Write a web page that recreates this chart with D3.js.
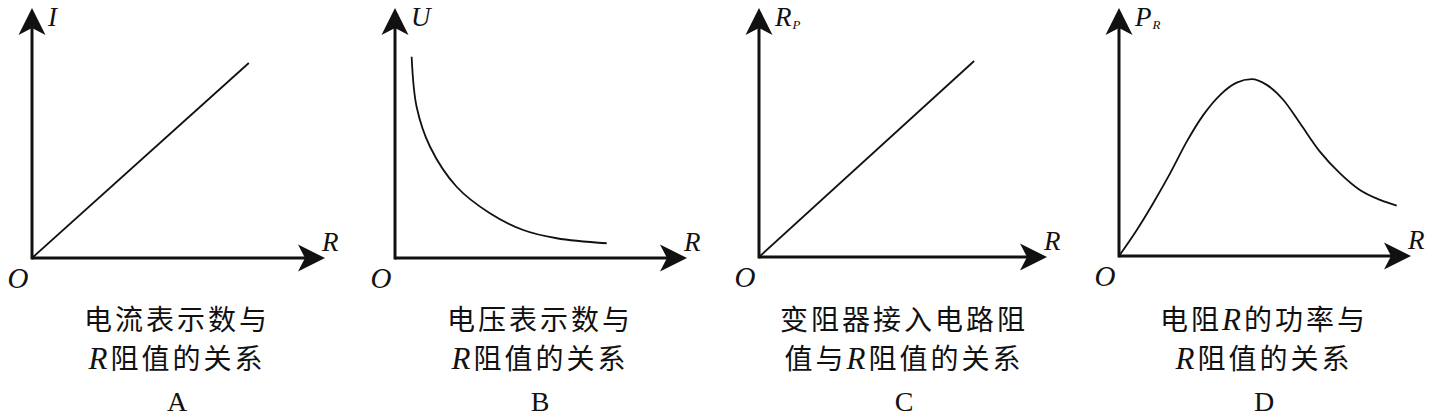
<!DOCTYPE html>
<html>
<head>
<meta charset="utf-8">
<script src="https://cdn.jsdelivr.net/npm/d3@7"></script>
<style>
  body { margin: 0; background: #fff; }
  .lat { font-family: "Liberation Serif", "DejaVu Serif", serif; font-style: italic; }
  .cap { font-family: "Noto Sans CJK SC", sans-serif; }
</style>
</head>
<body>
<div id="chart"></div>
<script>
var width = 1439, height = 417;

// panel ids and texts
var panelIds = ["A", "B", "C", "D"];
var yMain = ["I", "U", "R", "P"];
var ySub = ["", "", "P", "R"];
var xLabel = "R";
var caption1 = [["电流表示数与"], ["电压表示数与"], ["变阻器接入电路阻"], ["电阻", "R", "的功率与"]];
var caption2 = [["", "R", "阻值的关系"], ["", "R", "阻值的关系"], ["值与", "R", "阻值的关系"], ["", "R", "阻值的关系"]];

// curves, in percent of the axis length (x: R, y: quantity)
var curveA = [[0, 0], [74, 78]];
var curveB = [[5.7, 80.5], [7.4, 60.5], [12.0, 44.5], [21.1, 28.5], [32.5, 17.9], [43.9, 11.2], [55.4, 7.9], [72.5, 5.9]];
var curveC = [[0, 0], [74.7, 78.7]];
var curveD = [[0, 0], [6.1, 10.5], [11.7, 21.3], [17.5, 33.3], [23.2, 46.1], [28.9, 56.9], [34.6, 64.9], [40.3, 69.9], [45.4, 71.3], [50.6, 69.0], [56.3, 62.9], [62.0, 53.5], [68.8, 42.1], [75.7, 33.3], [82.5, 26.6], [89.4, 22.6], [95.1, 20.3]];
var curves = [curveA, curveB, curveC, curveD];

// layout of each panel: origin and arrow tips (pixels)
var layout = [
  { ox: 32, oy: 258, tx: 325, ty: 8 },
  { ox: 395, oy: 258, tx: 687, ty: 8 },
  { ox: 759, oy: 257, tx: 1047, ty: 8 },
  { ox: 1119, oy: 256, tx: 1411, ty: 8 }
];
var curveTypes = [d3.curveLinear, d3.curveCatmullRom.alpha(0.5), d3.curveLinear, d3.curveMonotoneX];

var svg = d3.select("#chart").append("svg")
  .attr("width", width)
  .attr("height", height);

var ink = "#111";

panelIds.forEach(function(id, i) {
  var L = layout[i];
  var x = d3.scaleLinear().domain([0, 100]).range([L.ox, L.tx]);
  var y = d3.scaleLinear().domain([0, 100]).range([L.oy, L.ty]);
  var g = svg.append("g").attr("class", "panel-" + id);

  // axes
  g.append("line")
    .attr("x1", x(0)).attr("y1", y(0))
    .attr("x2", x(100) - 12).attr("y2", y(0))
    .attr("stroke", ink).attr("stroke-width", 3);
  g.append("line")
    .attr("x1", x(0)).attr("y1", y(0) + 1.5)
    .attr("x2", x(0)).attr("y2", y(100) + 12)
    .attr("stroke", ink).attr("stroke-width", 3);

  // arrow heads
  var arrow = "M0,0 L-13.5,27 L0,20 L13.5,27 Z";
  g.append("path").attr("d", arrow).attr("fill", ink)
    .attr("transform", "translate(" + x(0) + "," + y(100) + ")");
  g.append("path").attr("d", arrow).attr("fill", ink)
    .attr("transform", "translate(" + x(100) + "," + y(0) + ") rotate(90)");

  // curve
  var line = d3.line()
    .x(function(d) { return x(d[0]); })
    .y(function(d) { return y(d[1]); })
    .curve(curveTypes[i]);
  g.append("path")
    .datum(curves[i])
    .attr("d", line)
    .attr("fill", "none")
    .attr("stroke", ink)
    .attr("stroke-width", 1.8);

  // axis labels
  var yl = g.append("text").attr("class", "lat")
    .attr("x", x(0) + 16).attr("y", 26)
    .attr("font-size", 27).attr("fill", ink);
  yl.append("tspan").text(yMain[i]);
  if (ySub[i]) {
    yl.append("tspan").attr("font-size", 13).attr("dy", 3).attr("dx", 1).text(ySub[i]);
  }
  g.append("text").attr("class", "lat")
    .attr("x", x(100) - 3).attr("y", y(0) - 7)
    .attr("font-size", 27).attr("fill", ink)
    .text(xLabel);
  g.append("text").attr("class", "lat")
    .attr("x", x(0) - 14).attr("y", y(0) + 30)
    .attr("text-anchor", "middle")
    .attr("font-size", 29).attr("fill", ink)
    .text("O");

  // caption
  var cx = x(0) + 145;
  [caption1[i], caption2[i]].forEach(function(parts, k) {
    var t = g.append("text").attr("class", "cap")
      .attr("x", cx).attr("y", 330 + k * 39)
      .attr("text-anchor", "middle")
      .attr("font-size", 28).attr("fill", ink)
      .attr("letter-spacing", 3);
    parts.forEach(function(p) {
      if (!p) return;
      var s = t.append("tspan").text(p);
      if (p === "R") s.attr("class", "lat").attr("font-size", 31);
    });
  });
  g.append("text")
    .attr("x", cx).attr("y", 411)
    .attr("text-anchor", "middle")
    .attr("font-family", "Liberation Serif, serif")
    .attr("font-size", 28).attr("fill", ink)
    .text(id);
});
</script>
</body>
</html>
